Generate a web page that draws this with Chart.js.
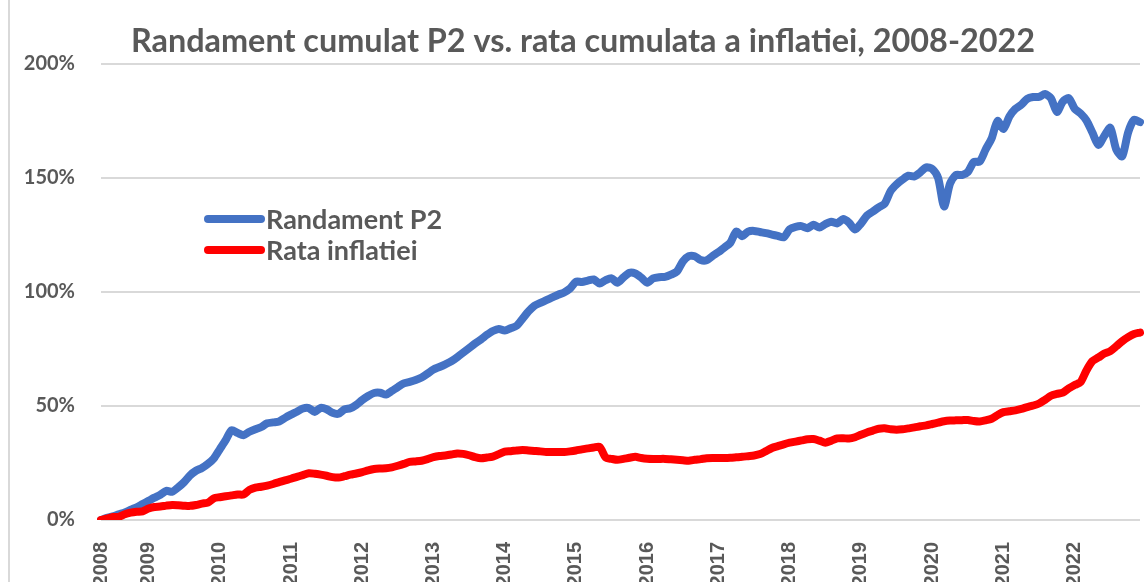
<!DOCTYPE html>
<html>
<head>
<meta charset="utf-8">
<script src="https://cdn.jsdelivr.net/npm/chart.js@4/dist/chart.umd.min.js"></script>
<style>
  body { margin: 0; background: #fff; }
  #wrap { position: relative; width: 1145px; height: 582px; overflow: hidden; }
  #edge { position: absolute; left: 8px; top: 0; width: 2px; height: 582px; background: #d9d9d9; }
</style>
</head>
<body>
<div id="wrap">
  <canvas id="chart" width="1145" height="625"></canvas>
  <div id="edge"></div>
</div>
<script>
// monthly series, May 2008 - Dec 2022 (cumulative %)
const chartTitle = "Randament cumulat P2 vs. rata cumulata a inflatiei, 2008-2022";
const seriesNames = ["Randament P2", "Rata inflatiei"];
const yearLabels = ["2008", "2009", "2010", "2011", "2012", "2013", "2014", "2015",
  "2016", "2017", "2018", "2019", "2020", "2021", "2022"];
const firstMonth = 4; // May
const yTicks = [0, 50, 100, 150, 200];

const randamentP2 = [
  0, 0.9, 1.6, 2.5, 3.3, 4.5, 5.6, 7.0, 8.4, 9.8,
  11.1, 12.8, 12.4, 14.3, 16.6, 19.6, 21.6, 22.8, 24.6, 27,
  31, 35, 39.4, 38.2, 37.2, 38.7, 39.8, 40.8, 42.4, 42.8,
  43.2, 44.8, 46.2, 47.5, 48.9, 49.1, 47.4, 49.2, 48.6, 47,
  46.6, 48.5, 49, 50.5, 52.6, 54.4, 55.7, 55.8, 55, 56.6,
  58.3, 59.9, 60.6, 61.4, 62.5, 64.2, 66, 67.1, 68.3, 69.6,
  71.4, 73.4, 75.4, 77.4, 79.2, 81.2, 82.9, 83.8, 83.1, 84.1,
  85.2, 88.3, 91.5, 94, 95.2, 96.4, 97.6, 98.8, 99.8, 101.5,
  104.5, 104.4, 105, 105.5, 103.7, 105.2, 106, 104.1, 106.4, 108.4,
  108.1, 106.3, 104.1, 106, 106.5, 106.6, 107.6, 109, 113.4, 115.7,
  115.7, 114, 113.9, 115.8, 117.5, 119.5, 121.6, 126.5, 124.5, 126.5,
  126.8, 126.3, 125.8, 125.2, 124.6, 124, 127.5, 128.6, 128.9, 128,
  129.5, 128.3, 129.8, 130.8, 130.1, 132, 130.4, 127.4, 130, 133.5,
  135.3, 137.1, 138.8, 144.3, 147.2, 149.3, 151, 150.7, 152.5, 154.7,
  154, 150, 137.5, 147.5, 151.3, 151.3, 152.6, 157, 157.2, 162.5,
  167.3, 175, 171.5, 177, 180.3, 182.1, 184.7, 185.5, 185.6, 186.8,
  185, 179, 183.5, 185, 180.4, 178.3, 175.2, 169.8, 164.5, 168.5,
  172, 162.5, 159.5, 170, 175.5, 174.5
];

const rataInflatiei = [
  0, 0.6, 1.3, 1.4, 2.5, 3.2, 3.6, 3.8, 5.0, 5.7,
  5.9, 6.3, 6.6, 6.5, 6.3, 6.2, 6.6, 7.2, 7.6, 9.5,
  10, 10.4, 10.8, 11.2, 11.2, 13.2, 14.2, 14.6, 15.1, 15.8,
  16.6, 17.4, 18.1, 18.9, 19.7, 20.5, 20.3, 19.9, 19.4, 18.8,
  18.6, 19.2, 19.9, 20.4, 21, 21.8, 22.4, 22.6, 22.7, 23.1,
  23.8, 24.6, 25.5, 25.7, 26, 26.7, 27.6, 28.1, 28.3, 28.7,
  29.2, 29, 28.4, 27.6, 27.1, 27.4, 27.8, 28.9, 30, 30.2,
  30.5, 30.7, 30.5, 30.3, 30.1, 29.8, 29.8, 29.8, 29.8, 30.1,
  30.5, 31, 31.4, 31.8, 32, 27.4, 26.8, 26.4, 26.8, 27.3,
  27.7, 27.2, 26.9, 26.8, 26.8, 26.8, 26.6, 26.4, 26.2, 26,
  26.4, 26.7, 27.1, 27.2, 27.2, 27.2, 27.3, 27.5, 27.7, 28,
  28.3, 28.9, 30.2, 31.6, 32.4, 33.2, 33.9, 34.4, 34.9, 35.4,
  35.5, 34.8, 33.9, 34.8, 35.8, 35.9, 35.7, 36.3, 37.4, 38.4,
  39.2, 40, 40.2, 39.8, 39.6, 39.8, 40.2, 40.6, 41.1, 41.5,
  42.1, 42.7, 43.3, 43.6, 43.7, 43.8, 43.9, 43.4, 43.2, 43.7,
  44.4, 46, 47.3, 47.7, 48.1, 48.7, 49.5, 50.2, 51.1, 52.7,
  54.5, 55.3, 55.9, 57.7, 59.2, 60.5, 65.7, 69.7, 71.3, 73,
  74.1, 76.2, 78.4, 80.2, 81.6, 82.2
];

// one category per month, year shown on the first point and on every January
let labels = randamentP2.map((v, i) => {
  let m = firstMonth + i;
  return (i === 0 || m % 12 === 0) ? yearLabels[Math.floor(m / 12)] : "";
});

const grey = "#595959";
const blue = "#4472C4";
const red = "#FF0000";

// title and the legend box sitting inside the plot
const overlay = {
  id: "overlay",
  afterDraw(chart) {
    const c = chart.ctx;
    c.save();
    c.fillStyle = grey;
    c.textAlign = "center";
    c.textBaseline = "middle";
    c.font = "bold 32.4px Lato";
    c.fillText(chartTitle, 583, 42);

    const rows = [[blue, 219], [red, 250]];
    c.textAlign = "left";
    c.font = "bold 27px Lato";
    c.lineCap = "round";
    c.lineWidth = 8;
    rows.forEach((r, i) => {
      c.strokeStyle = r[0];
      c.beginPath();
      c.moveTo(208, r[1]);
      c.lineTo(261, r[1]);
      c.stroke();
      c.fillText(chart.data.datasets[i].label, 266, r[1] + 1);
    });
    c.restore();
  }
};

const ctx = document.getElementById("chart").getContext("2d");
const chart = new Chart(ctx, {
  type: "line",
  data: {
    labels: labels,
    datasets: [
      {
        label: seriesNames[0],
        data: randamentP2,
        borderColor: blue,
        backgroundColor: blue,
        borderWidth: 8,
        order: 1
      },
      {
        label: seriesNames[1],
        data: rataInflatiei,
        borderColor: red,
        backgroundColor: red,
        borderWidth: 8,
        order: 0
      }
    ]
  },
  options: {
    responsive: false,
    animation: false,
    layout: { padding: { top: 64, right: 5, left: 0, bottom: 0 } },
    elements: {
      point: { radius: 0 },
      line: { tension: 0.25, borderCapStyle: "round", borderJoinStyle: "round" }
    },
    plugins: {
      legend: { display: false },
      title: { display: false },
      tooltip: { enabled: false }
    },
    scales: {
      x: {
        offset: false,
        grid: { display: false, drawTicks: false },
        border: { display: false },
        afterFit: (axis) => {
          axis.height = 105;
          axis.paddingLeft = 0;
          axis.paddingRight = 0;
        },
        ticks: {
          autoSkip: false,
          minRotation: 90,
          maxRotation: 90,
          padding: 22,
          color: grey,
          font: { family: "Liberation Sans", weight: "bold", size: 20 }
        }
      },
      y: {
        min: 0,
        max: 200,
        afterFit: (axis) => { axis.width = 101; },
        afterBuildTicks: (axis) => { axis.ticks = yTicks.map(v => ({ value: v })); },
        grid: { color: "#d9d9d9", lineWidth: 2, drawTicks: false },
        border: { display: false },
        ticks: {
          padding: 26,
          color: grey,
          font: { family: "Lato", weight: "bold", size: 20 },
          callback: (v) => v + "%"
        }
      }
    }
  },
  plugins: [overlay]
});
</script>
</body>
</html>
